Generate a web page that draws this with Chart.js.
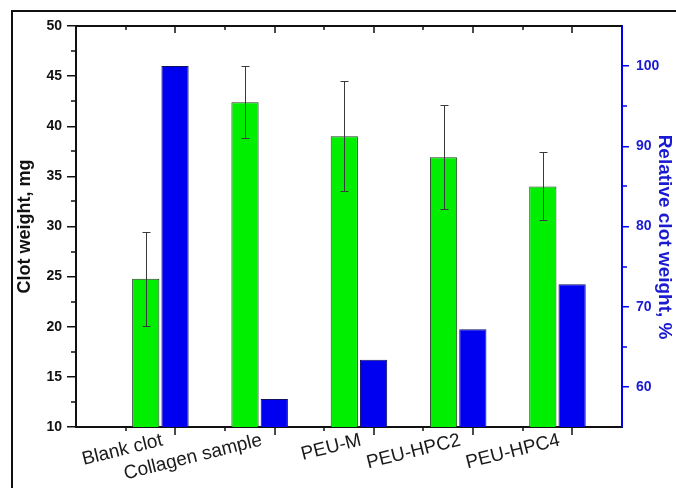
<!DOCTYPE html>
<html><head><meta charset="utf-8">
<script src="https://cdn.jsdelivr.net/npm/chart.js@4"></script>
<style>html,body{margin:0;padding:0;background:#fff}#wrap{position:relative;width:676px;height:488px}</style>
</head><body><div id="wrap"><canvas id="c" width="676" height="488"></canvas></div>
<script>
const categories = ['Blank clot', 'Collagen sample', 'PEU-M', 'PEU-HPC2', 'PEU-HPC4'];
const clotWeight = [24.8, 42.4, 39.0, 36.9, 34.0];
const clotWeightErr = [4.7, 3.6, 5.5, 5.2, 3.4];
const relativeWeight = [100, 58.5, 63.4, 67.2, 72.8];
const leftTicks = [10, 15, 20, 25, 30, 35, 40, 45, 50];
const leftMinor = [12.5, 17.5, 22.5, 27.5, 32.5, 37.5, 42.5, 47.5];
const rightTicks = [60, 70, 80, 90, 100];
const rightMinor = [65, 75, 85, 95];

const FONT = "'Liberation Sans', Arial, sans-serif";
const BLUE = '#0000f0';
const BLUE_TXT = '#1a1ad2';

const decor = {
  id: 'decor',
  beforeDraw(chart) {
    const ctx = chart.ctx;
    ctx.save();
    ctx.fillStyle = '#fff';
    ctx.fillRect(0, 0, chart.width, chart.height);
    ctx.restore();
  },
  afterDatasetsDraw(chart) {
    const ctx = chart.ctx;
    const meta = chart.getDatasetMeta(0);
    const ys = chart.scales.y;
    ctx.save();
    ctx.strokeStyle = '#3a3a3a';
    ctx.lineWidth = 1;
    meta.data.forEach((el, i) => {
      const x = Math.round(el.x) + 0.5;
      const t = Math.round(ys.getPixelForValue(clotWeight[i] + clotWeightErr[i])) + 0.5;
      const b = Math.round(ys.getPixelForValue(clotWeight[i] - clotWeightErr[i])) + 0.5;
      ctx.beginPath();
      ctx.moveTo(x, t); ctx.lineTo(x, b);
      ctx.moveTo(x - 4, t); ctx.lineTo(x + 4, t);
      ctx.moveTo(x - 4, b); ctx.lineTo(x + 4, b);
      ctx.stroke();
    });
    ctx.restore();
  },
  afterDraw(chart) {
    const ctx = chart.ctx;
    const a = chart.chartArea;
    const {x, y, y1} = chart.scales;
    ctx.save();
    // outer frame
    ctx.strokeStyle = '#111';
    ctx.lineWidth = 2;
    ctx.strokeRect(12, 11, 700, 500);
    // top axis line
    ctx.beginPath();
    ctx.moveTo(a.left - 1, a.top); ctx.lineTo(a.right, a.top);
    ctx.stroke();
    // x tick marks (bottom outward, top inward)
    ctx.lineWidth = 1.5;
    ctx.beginPath();
    for (let i = 0; i < categories.length; i++) {
      const maj = Math.round(x.getPixelForValue(i + 0.15));
      const min = Math.round(x.getPixelForValue(i - 0.35));
      ctx.moveTo(maj, a.bottom); ctx.lineTo(maj, a.bottom + 8);
      ctx.moveTo(min, a.bottom); ctx.lineTo(min, a.bottom + 4);
      ctx.moveTo(maj, a.top); ctx.lineTo(maj, a.top + 7);
      ctx.moveTo(min, a.top); ctx.lineTo(min, a.top + 4);
    }
    ctx.stroke();
    // left minor ticks
    ctx.beginPath();
    leftMinor.forEach(v => {
      const p = Math.round(y.getPixelForValue(v));
      ctx.moveTo(a.left, p); ctx.lineTo(a.left - 5, p);
    });
    ctx.stroke();
    // right minor ticks
    ctx.strokeStyle = BLUE;
    ctx.beginPath();
    rightMinor.forEach(v => {
      const p = Math.round(y1.getPixelForValue(v));
      ctx.moveTo(a.right, p); ctx.lineTo(a.right + 5, p);
    });
    ctx.stroke();
    ctx.restore();
  }
};

new Chart(document.getElementById('c'), {
  type: 'bar',
  data: {
    datasets: [
      {
        label: 'Clot weight, mg',
        data: clotWeight.map((v, i) => ({x: i, y: v})),
        yAxisID: 'y',
        backgroundColor: '#00ee00',
        borderColor: '#2a3a2a',
        borderWidth: 1
      },
      {
        label: 'Relative clot weight, %',
        data: relativeWeight.map((v, i) => ({x: i, y: v})),
        yAxisID: 'y1',
        backgroundColor: BLUE,
        borderColor: '#101060',
        borderWidth: 1
      }
    ]
  },
  options: {
    responsive: false,
    animation: false,
    events: [],
    categoryPercentage: 0.59,
    barPercentage: 0.93,
    layout: {padding: {top: 26, left: 0, right: 0, bottom: 0}},
    plugins: {legend: {display: false}, tooltip: {enabled: false}},
    scales: {
      x: {
        type: 'linear',
        offset: false,
        min: -0.85,
        max: 4.65,
        afterBuildTicks: s => { s.ticks = categories.map((c, i) => ({value: i})); },
        afterFit: s => { s.height = 61; },
        grid: {display: false, drawTicks: false, offset: false},
        border: {display: true, color: '#111', width: 2},
        ticks: {
          autoSkip: false,
          maxRotation: 14,
          minRotation: 14,
          padding: 2,
          labelOffset: 2,
          color: '#1a1a1a',
          font: {family: FONT, size: 19},
          callback: v => categories[v]
        }
      },
      y: {
        position: 'left',
        min: 10,
        max: 50,
        afterBuildTicks: s => { s.ticks = leftTicks.map(v => ({value: v})); },
        afterFit: s => { s.width = 76; },
        grid: {display: true, drawOnChartArea: false, drawTicks: true, tickLength: 9, color: '#111', lineWidth: 1.5},
        border: {display: true, color: '#111', width: 2},
        ticks: {padding: 5, color: '#111', font: {family: FONT, size: 14, weight: 'bold'}},
        title: {display: true, text: 'Clot weight, mg', color: '#111', padding: {top: 14, bottom: 0},
          font: {family: FONT, size: 18, weight: 'bold'}}
      },
      y1: {
        position: 'right',
        min: 55,
        max: 105,
        afterBuildTicks: s => { s.ticks = rightTicks.map(v => ({value: v})); },
        afterFit: s => { s.width = 54; },
        grid: {display: true, drawOnChartArea: false, drawTicks: true, tickLength: 7, color: BLUE, lineWidth: 1.5},
        border: {display: true, color: BLUE, width: 2},
        ticks: {padding: 7, color: BLUE_TXT, font: {family: FONT, size: 14, weight: 'bold'}},
        title: {display: true, text: '    Relative clot weight, %', color: BLUE_TXT, padding: {top: 0, bottom: 0},
          font: {family: FONT, size: 19, weight: 'bold'}}
      }
    }
  },
  plugins: [decor]
});
</script>
</body></html>
